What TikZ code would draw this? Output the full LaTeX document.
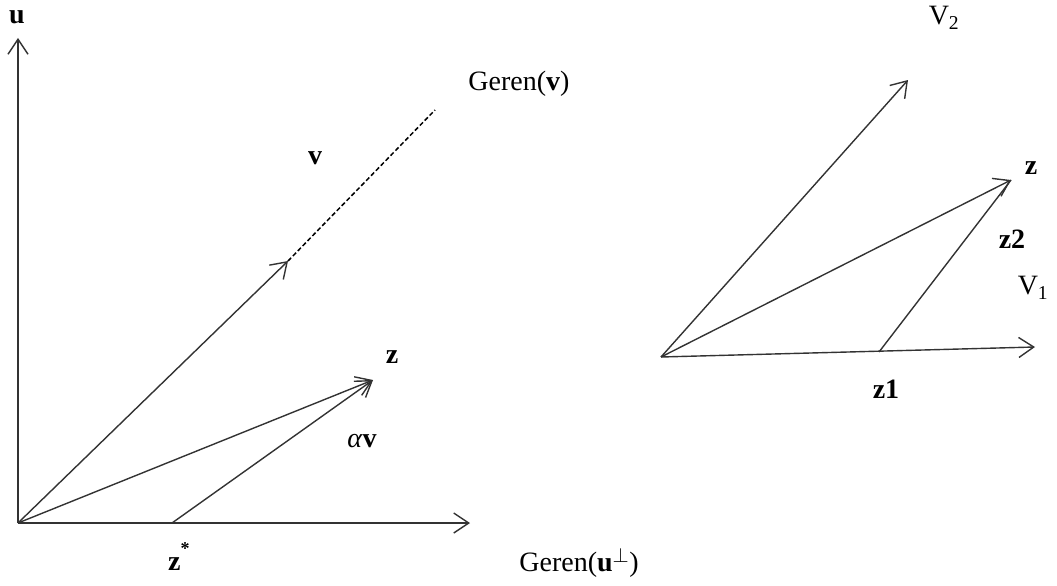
\documentclass[tikz,border=0pt]{standalone}
\usepackage{fontspec}
\setmainfont{Liberation Serif}
\usetikzlibrary{arrows.meta}
\tikzset{
  vec/.style={line width=1.4pt,draw=black!80,-{Straight Barb[length=15pt,width=20pt,line width=1.4pt]}},
  seg/.style={line width=1.4pt,draw=black!80},
  lbl/.style={inner sep=0pt,font=\fontsize{28}{31}\selectfont},
  dashseg/.style={line width=1.5pt,dash pattern=on 4.5pt off 2.5pt}
}
\begin{document}
\begin{tikzpicture}[x=1pt,y=-1pt]
\useasboundingbox (0,0) rectangle (1057,586);
% left diagram
\coordinate (O) at (18,523);
\coordinate (U) at (18,38);
\coordinate (X) at (470,523);
\coordinate (V) at (288,261);
\coordinate (Vd) at (435,110);
\coordinate (Z) at (373,380);
\coordinate (Zs) at (172,523);
\draw[vec] (O) -- (U);
\draw[vec] (O) -- (X);
\draw[vec] (O) -- (V);
\draw[dashseg] (V) -- (Vd);
\draw[vec] (O) -- (Z);
\draw[vec] (Zs) -- (Z);
\node[lbl] (lu) at (17,17) {\textbf{u}};
\node[lbl] (lgv) at (519,84) {Geren(\textbf{v})};
\node[lbl] (lv) at (315,158) {\textbf{v}};
\node[lbl] (lz) at (392,357) {\textbf{z}};
\node[lbl] (lav) at (362,441) {\textit{α}\textbf{v}};
\node[lbl,anchor=base west] (lzs) at (168,570) {\textbf{z}\raisebox{0.55em}{\fontsize{18}{18}\selectfont\textbf{*}}};
\node[lbl] (lgu) at (579,563) {Geren(\textbf{u}$^{\perp}$)};
% right diagram
\coordinate (P) at (661,357);
\coordinate (V1) at (1035,347);
\coordinate (V2) at (908,80);
\coordinate (Zr) at (1011,180);
\coordinate (Z1) at (879,352);
\draw[vec] (P) -- (V1);
\draw[vec] (P) -- (V2);
\draw[vec] (P) -- (Zr);
\draw[seg] (Z1) -- (Zr);
\node[lbl] (lV2) at (944,18) {V\textsubscript{2}};
\node[lbl] (lzr) at (1031,168) {\textbf{z}};
\node[lbl] (lz2) at (1012,239) {\textbf{z2}};
\node[lbl] (lV1) at (1033,288) {V\textsubscript{1}};
\node[lbl] (lz1) at (886,389) {\textbf{z1}};
\end{tikzpicture}
\end{document}
